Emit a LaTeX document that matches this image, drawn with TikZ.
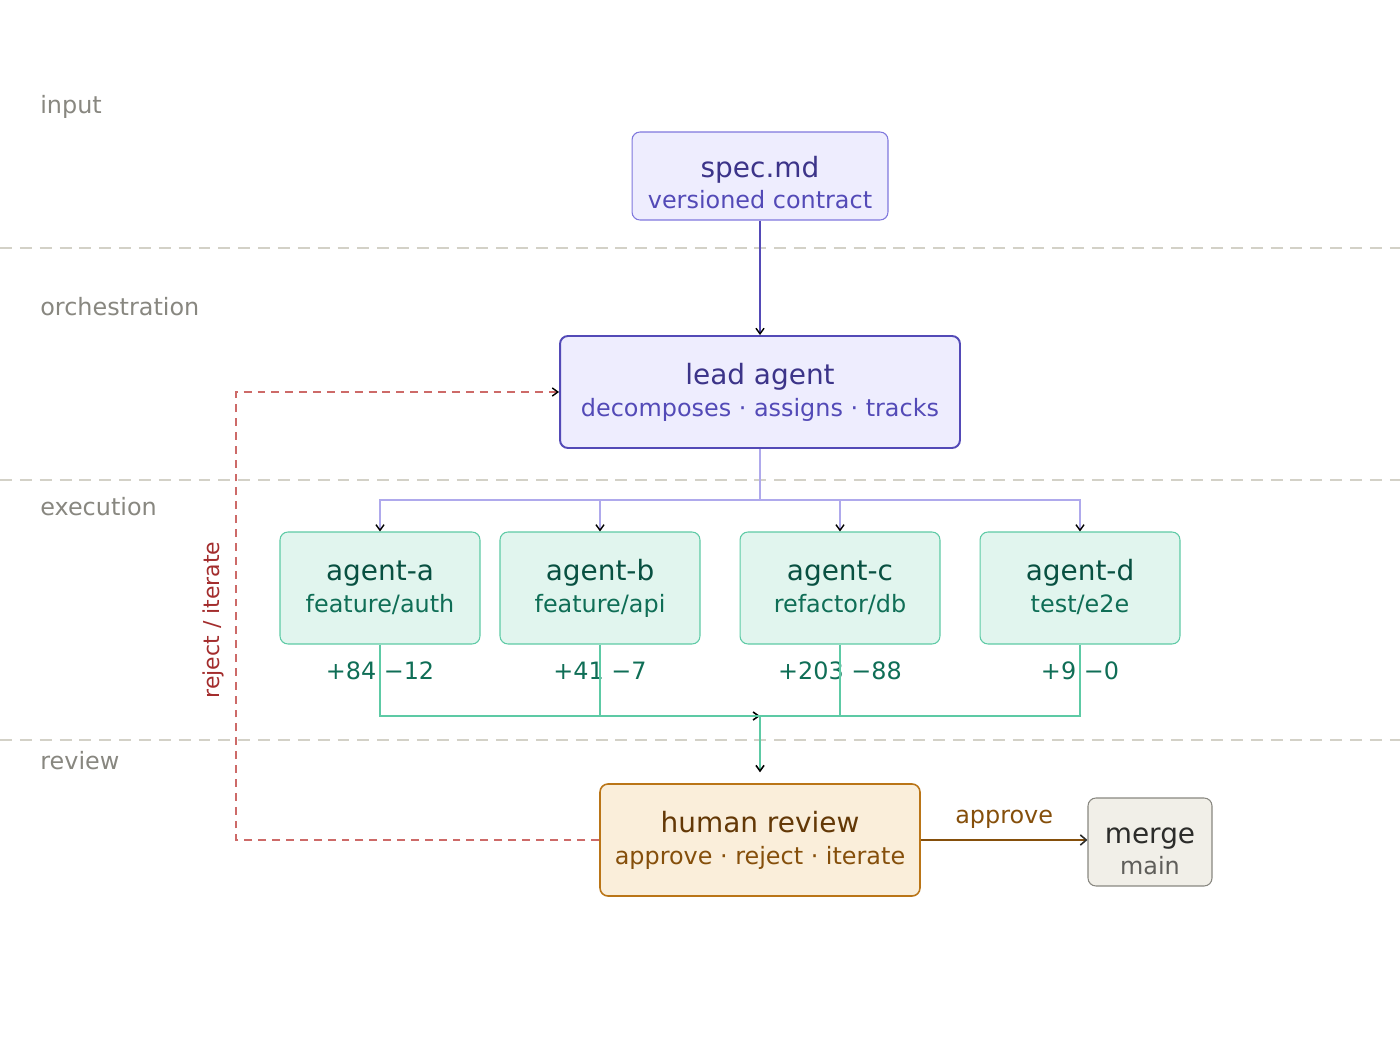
\documentclass[tikz,border=0pt]{standalone}
\usepackage{fontspec}
\setmainfont{DejaVu Sans}
\usetikzlibrary{arrows.meta,positioning}
\definecolor{pfill}{HTML}{EEEDFE}
\definecolor{pedge}{HTML}{7F77DD}
\definecolor{pdark}{HTML}{534AB7}
\definecolor{ptitle}{HTML}{3C3489}
\definecolor{plight}{HTML}{AFA9EC}
\definecolor{tfill}{HTML}{E1F5EE}
\definecolor{tedge}{HTML}{5DCAA5}
\definecolor{ttitle}{HTML}{085041}
\definecolor{tsub}{HTML}{0F6E56}
\definecolor{afill}{HTML}{FAEEDA}
\definecolor{aedge}{HTML}{BA7517}
\definecolor{atitle}{HTML}{633806}
\definecolor{asub}{HTML}{854F0B}
\definecolor{gfill}{HTML}{F1EFE8}
\definecolor{gedge}{HTML}{888780}
\definecolor{gtitle}{HTML}{2C2C2A}
\definecolor{gsub}{HTML}{5F5E5A}
\definecolor{lanec}{HTML}{D3D1C7}
\definecolor{rline}{HTML}{CD6A68}
\definecolor{rtext}{HTML}{A32D2D}
\newcommand{\ttl}{\fontsize{15.9}{19}\selectfont}
\newcommand{\sbt}{\fontsize{13.6}{17}\selectfont}
% two-line box texts: tall boxes and short boxes
\newcommand{\tallbx}[3]{\rule{0pt}{13.5pt}{\ttl #1}\\\textcolor{#2}{\sbt #3}\rule[-3.4pt]{0pt}{0pt}}
\newcommand{\lowbx}[3]{\rule{0pt}{20.3pt}{\ttl #1}\\\textcolor{#2}{\sbt #3}\rule[-1pt]{0pt}{0pt}}
\tikzset{
  box/.style={draw, rounded corners=4.5pt, align=center, line width=0.6pt, inner sep=0pt,
              font=\fontsize{13.6}{18.1}\selectfont},
  specbox/.style={box, draw=pedge, fill=pfill, text=ptitle, minimum width=5.12cm, minimum height=1.76cm},
  leadbox/.style={box, draw=pdark, line width=1.1pt, fill=pfill, text=ptitle, minimum width=8cm, minimum height=2.24cm},
  agbox/.style={box, draw=tedge, fill=tfill, text=ttitle, minimum width=4cm, minimum height=2.24cm},
  revbox/.style={box, draw=aedge, line width=0.9pt, fill=afill, text=atitle, minimum width=6.4cm, minimum height=2.24cm},
  mrgbox/.style={box, draw=gedge, fill=gfill, text=gtitle, minimum width=2.48cm, minimum height=1.76cm},
  lane/.style={lanec, line width=0.9pt, dash pattern=on 6.8pt off 4.5pt},
  lanelbl/.style={anchor=west, text=gedge, font=\sbt, inner sep=0pt},
  diff/.style={text=tsub, font=\sbt, inner sep=0pt},
  arr/.style={-{Straight Barb[length=3.2pt,width=4.6pt,color=black]}},
  arrb/.style={-{Straight Barb[length=3.4pt,width=5.8pt,color=gtitle]}},
  specln/.style={pdark, line width=0.8pt},
  fanln/.style={plight, line width=0.8pt},
  busln/.style={tedge, line width=0.9pt},
  rej/.style={rline, line width=0.8pt, dash pattern=on 4.5pt off 3.4pt},
  apr/.style={asub, line width=0.9pt},
}
\begin{document}
\begin{tikzpicture}[x=0.02cm, y=-0.02cm]
  \useasboundingbox (0,0) rectangle (1400,1040);
  \foreach \y in {248,480,740} \draw[lane] (0,\y) -- (1400,\y);
  \node[lanelbl] (ln-in) at (40,107) {input};
  \node[lanelbl] (ln-or) at (40,307) {orchestration};
  \node[lanelbl] (ln-ex) at (40,507) {execution};
  \node[lanelbl] (ln-rv) at (40,761) {review};

  \node[specbox] (spec) at (760,176) {\lowbx{spec.md}{pdark}{versioned contract}};
  \node[leadbox] (lead) at (760,392) {\tallbx{lead agent}{pdark}{decomposes · assigns · tracks}};
  \node[agbox] (ag-a) at (380,588) {\tallbx{agent-a}{tsub}{feature/auth}};
  \node[agbox] (ag-b) at (600,588) {\tallbx{agent-b}{tsub}{feature/api}};
  \node[agbox] (ag-c) at (840,588) {\tallbx{agent-c}{tsub}{refactor/db}};
  \node[agbox] (ag-d) at (1080,588) {\tallbx{agent-d}{tsub}{test/e2e}};
  \node[revbox] (review) at (760,840) {\tallbx{human review}{asub}{approve · reject · iterate}};
  \node[mrgbox] (merge) at (1150,842) {\lowbx{merge}{gsub}{main}};

  \node[diff] (df-a) at (380,671) {+84 −12};
  \node[diff] (df-b) at (600,671) {+41 −7};
  \node[diff] (df-c) at (840,671) {+203 −88};
  \node[diff] (df-d) at (1080,671) {+9 −0};

  \coordinate (fan) at (760,500);
  \coordinate (bus) at (760,716);
  \coordinate (rj) at (236,392);

  \draw[specln, arr] (spec) -- (lead);
  \draw[fanln] (lead) -- (fan);
  \foreach \a in {a,b,c,d} \draw[fanln, arr] (fan) -| (ag-\a.north);
  \draw[busln, arr] (ag-a.south) |- (bus);
  \foreach \a in {b,c,d} \draw[busln] (ag-\a.south) |- (bus);
  \draw[busln, arr, shorten >=6.2pt] (bus) -- (review);

  \draw[rej, arr] (review.west) -| (rj) -- (lead.west);
  \node[text=rtext, font=\fontsize{12.5}{15}\selectfont, rotate=90, inner sep=0pt] (rj-l) at (213,620) {reject / iterate};

  \draw[apr, arrb] (review.east) -- (review.east -| merge.west)
    node[midway, anchor=base, yshift=9.6pt, text=asub, font=\sbt] (ap-l) {approve};
\end{tikzpicture}
\end{document}
